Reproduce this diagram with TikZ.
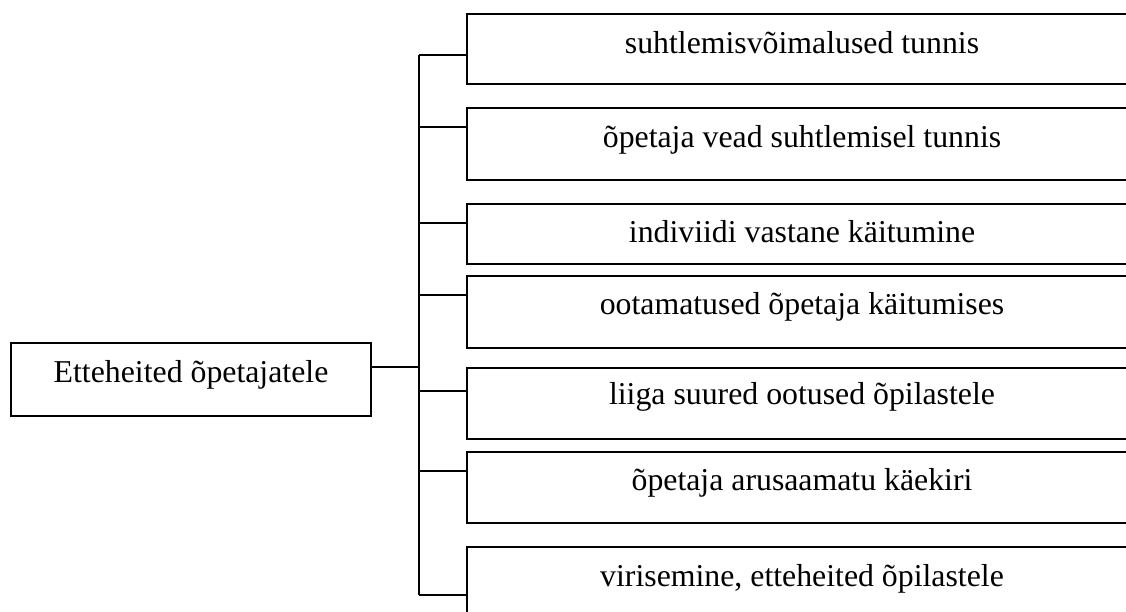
\documentclass[tikz,border=0pt]{standalone}
\usepackage{fontspec}
\setmainfont{Liberation Serif}
\begin{document}
\begin{tikzpicture}[x=1pt,y=-1pt,
  itembox/.style={draw=black,line width=2pt,rectangle,minimum width=670pt,inner sep=0pt},
  rootbox/.style={draw=black,line width=2pt,rectangle,minimum width=360pt,minimum height=73pt,inner sep=0pt},
  label/.style={anchor=base,inner sep=0pt,font=\fontsize{31.8}{38}\selectfont},
  link/.style={draw=black,line width=2pt}]
\useasboundingbox (0,0) rectangle (1126,611);
\clip (0,0) rectangle (1126,611);

% root box
\node[rootbox] (root) at (191,379.5) {};
\node[label] (rootlbl) at ([yshift=-40pt]root.north) {Etteheited õpetajatele};

% item boxes: centre y from top and height
\node[itembox,minimum height=70pt] (b1) at (802,49) {};
\node[itembox,minimum height=72pt] (b2) at (802,144) {};
\node[itembox,minimum height=60pt] (b3) at (802,234) {};
\node[itembox,minimum height=72pt] (b4) at (802,312) {};
\node[itembox,minimum height=71pt] (b5) at (802,403.5) {};
\node[itembox,minimum height=71pt] (b6) at (802,487.5) {};
\node[itembox,minimum height=72pt] (b7) at (802,583) {};

\node[label] (t1) at ([yshift=-40pt]b1.north) {suhtlemisvõimalused tunnis};
\node[label] (t2) at ([yshift=-40pt]b2.north) {õpetaja vead suhtlemisel tunnis};
\node[label] (t3) at ([yshift=-39pt]b3.north) {indiviidi vastane käitumine};
\node[label] (t4) at ([yshift=-39pt]b4.north) {ootamatused õpetaja käitumises};
\node[label] (t5) at ([yshift=-37pt]b5.north) {liiga suured ootused õpilastele};
\node[label] (t6) at ([yshift=-39pt]b6.north) {õpetaja arusaamatu käekiri};
\node[label] (t7) at ([yshift=-40pt]b7.north) {virisemine, etteheited õpilastele};

% spine junctions
\coordinate (j0) at (419,367);
\coordinate (s1) at (419,55);
\coordinate (s2) at (419,127);
\coordinate (s3) at (419,223);
\coordinate (s4) at (419,295);
\coordinate (s5) at (419,391);
\coordinate (s6) at (419,471);
\coordinate (s7) at (419,595);

% spine and branches
\draw[link] (s1) -- (s7);
\draw[link] (root.east |- j0) -- (j0);
\foreach \k in {1,...,7}{
  \draw[link] (s\k) -- (s\k -| b\k.west);
}
\end{tikzpicture}
\end{document}
